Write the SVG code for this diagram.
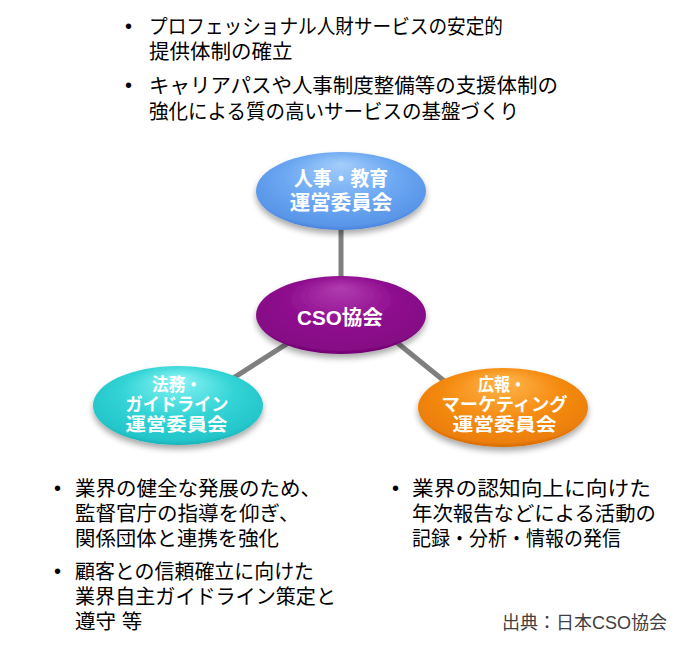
<svg xmlns="http://www.w3.org/2000/svg" width="681" height="658" viewBox="0 0 681 658">
  <style>
    .body { font-family: "Liberation Sans", "Noto Sans CJK JP", sans-serif; font-size: 20.5px; fill: #000; }
    .bul { font-family: "Liberation Sans", "Noto Sans CJK JP", sans-serif; font-size: 20px; fill: #000; text-anchor: middle; }
    .lbl { font-family: "Liberation Sans", "Noto Sans CJK JP", sans-serif; font-size: 20.5px; font-weight: bold; fill: #fff; text-anchor: middle; }
    .lbl3 { font-family: "Liberation Sans", "Noto Sans CJK JP", sans-serif; font-size: 18px; font-weight: bold; fill: #fff; text-anchor: middle; }
    .src { font-family: "Liberation Sans", "Noto Sans CJK JP", sans-serif; font-size: 18px; fill: #404040; }
    .conn { stroke: #7f7f7f; stroke-width: 5; fill: none; }
  </style>
  <defs>
    <filter id="shadow" x="-20%" y="-20%" width="140%" height="150%">
      <feGaussianBlur in="SourceAlpha" stdDeviation="3"/>
      <feOffset dx="0" dy="4" result="b"/>
      <feComponentTransfer><feFuncA type="linear" slope="0.35"/></feComponentTransfer>
      <feMerge><feMergeNode/><feMergeNode in="SourceGraphic"/></feMerge>
    </filter>
    <radialGradient id="gBlue" cx="0.5" cy="0.45" r="0.6" fx="0.5" fy="0.15">
      <stop offset="0" stop-color="#a4cdfb"/>
      <stop offset="0.55" stop-color="#6ca8f2"/>
      <stop offset="0.88" stop-color="#5a96e8"/>
      <stop offset="1" stop-color="#3b73cf"/>
    </radialGradient>
    <radialGradient id="gPurple" cx="0.5" cy="0.45" r="0.6" fx="0.5" fy="0.15">
      <stop offset="0" stop-color="#b03cb0"/>
      <stop offset="0.55" stop-color="#8e0c8e"/>
      <stop offset="0.88" stop-color="#850885"/>
      <stop offset="1" stop-color="#5e005e"/>
    </radialGradient>
    <radialGradient id="gCyan" cx="0.5" cy="0.45" r="0.6" fx="0.5" fy="0.15">
      <stop offset="0" stop-color="#8cf4f4"/>
      <stop offset="0.55" stop-color="#33d4d6"/>
      <stop offset="0.88" stop-color="#24c6ca"/>
      <stop offset="1" stop-color="#11a2aa"/>
    </radialGradient>
    <radialGradient id="gOrange" cx="0.5" cy="0.45" r="0.6" fx="0.5" fy="0.15">
      <stop offset="0" stop-color="#ffb64d"/>
      <stop offset="0.55" stop-color="#f58c12"/>
      <stop offset="0.88" stop-color="#ec7f08"/>
      <stop offset="1" stop-color="#c05800"/>
    </radialGradient>
  </defs>

  <rect width="681" height="658" fill="#fff"/>

  <g id="connectors">
    <line class="conn" x1="341" y1="222" x2="341" y2="284"/>
    <line class="conn" x1="225" y1="383.3" x2="295" y2="338.7"/>
    <line class="conn" x1="392" y1="338.5" x2="455" y2="389.8"/>
  </g>

  <g id="node-jinji">
    <ellipse cx="341" cy="191" rx="85" ry="39" fill="url(#gBlue)" filter="url(#shadow)"/>
    <text class="lbl" x="341" y="186" textLength="94" lengthAdjust="spacingAndGlyphs">人事・教育</text>
    <text class="lbl" x="341" y="210">運営委員会</text>
  </g>

  <g id="node-cso">
    <ellipse cx="341" cy="315" rx="85" ry="39" fill="url(#gPurple)" filter="url(#shadow)"/>
    <text class="lbl" x="340" y="325" textLength="86" lengthAdjust="spacingAndGlyphs">CSO協会</text>
  </g>

  <g id="node-houmu">
    <ellipse cx="178" cy="405.5" rx="85" ry="39.5" fill="url(#gCyan)" filter="url(#shadow)"/>
    <text class="lbl3" x="177" y="391" textLength="50" lengthAdjust="spacingAndGlyphs">法務・</text>
    <text class="lbl3" x="177" y="411" textLength="103" lengthAdjust="spacingAndGlyphs">ガイドライン</text>
    <text class="lbl3" x="176.5" y="431" textLength="102" lengthAdjust="spacingAndGlyphs">運営委員会</text>
  </g>

  <g id="node-kouhou">
    <ellipse cx="503" cy="407.5" rx="85" ry="39.5" fill="url(#gOrange)" filter="url(#shadow)"/>
    <text class="lbl3" x="502" y="391" textLength="48" lengthAdjust="spacingAndGlyphs">広報・</text>
    <text class="lbl3" x="504.5" y="411" textLength="126" lengthAdjust="spacingAndGlyphs">マーケティング</text>
    <text class="lbl3" x="504.5" y="431" textLength="104" lengthAdjust="spacingAndGlyphs">運営委員会</text>
  </g>

  <g id="text-top">
    <text class="bul" x="128.5" y="33">•</text>
    <text class="body" x="149" y="34" textLength="354" lengthAdjust="spacingAndGlyphs">プロフェッショナル人財サービスの安定的</text>
    <text class="body" x="149" y="59">提供体制の確立</text>
    <text class="bul" x="128.5" y="92">•</text>
    <text class="body" x="149" y="93" textLength="409" lengthAdjust="spacingAndGlyphs">キャリアパスや人事制度整備等の支援体制の</text>
    <text class="body" x="149" y="119" textLength="370" lengthAdjust="spacingAndGlyphs">強化による質の高いサービスの基盤づくり</text>
  </g>

  <g id="text-left">
    <text class="bul" x="57.5" y="495">•</text>
    <text class="body" x="75" y="495.5">業界の健全な発展のため、</text>
    <text class="body" x="75" y="520.5">監督官庁の指導を仰ぎ、</text>
    <text class="body" x="75" y="545.5" textLength="204" lengthAdjust="spacingAndGlyphs">関係団体と連携を強化</text>
    <text class="bul" x="57.5" y="578">•</text>
    <text class="body" x="75" y="578.5" textLength="239" lengthAdjust="spacingAndGlyphs">顧客との信頼確立に向けた</text>
    <text class="body" x="75" y="603.5" textLength="261" lengthAdjust="spacingAndGlyphs">業界自主ガイドライン策定と</text>
    <text class="body" x="75" y="628.5">遵守 等</text>
  </g>

  <g id="text-right">
    <text class="bul" x="395.5" y="495">•</text>
    <text class="body" x="412" y="495.5" textLength="239" lengthAdjust="spacingAndGlyphs">業界の認知向上に向けた</text>
    <text class="body" x="412" y="520.5" textLength="244" lengthAdjust="spacingAndGlyphs">年次報告などによる活動の</text>
    <text class="body" x="412" y="545.5" textLength="209" lengthAdjust="spacingAndGlyphs">記録・分析・情報の発信</text>
  </g>

  <text class="src" x="502" y="629" textLength="165" lengthAdjust="spacingAndGlyphs">出典：日本CSO協会</text>
</svg>
